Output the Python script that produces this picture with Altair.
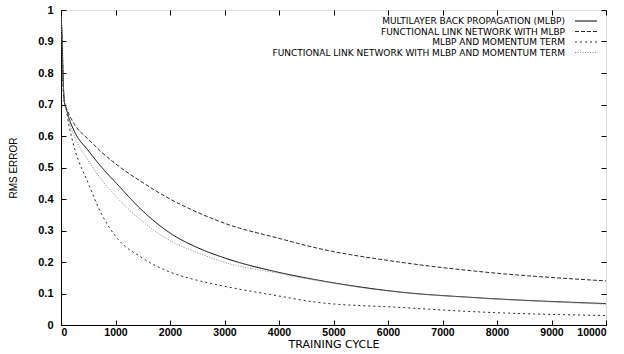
import altair as alt
import pandas as pd

# ---- data ----
cycles = [0, 10, 25, 45, 70, 90, 150, 250, 500, 750, 1000, 1500, 2000, 2500, 3000, 4000,
          4700, 6200, 7600, 10000]

mlbp = [0.98, 0.96, 0.88, 0.76, 0.70, 0.690, 0.655, 0.613, 0.554, 0.500, 0.453, 0.362,
        0.292, 0.246, 0.213, 0.167, 0.143, 0.105, 0.087, 0.068]
fln_mlbp = [0.98, 0.95, 0.86, 0.74, 0.70, 0.692, 0.668, 0.636, 0.590, 0.548, 0.512, 0.452,
            0.400, 0.358, 0.323, 0.275, 0.244, 0.200, 0.171, 0.140]
mlbp_mom = [0.97, 0.93, 0.84, 0.73, 0.70, 0.688, 0.630, 0.560, 0.450, 0.350, 0.282, 0.212,
            0.168, 0.142, 0.123, 0.092, 0.072, 0.056, 0.042, 0.030]
fln_mom = [0.98, 0.94, 0.85, 0.75, 0.70, 0.689, 0.645, 0.597, 0.522, 0.460, 0.410, 0.328,
           0.268, 0.230, 0.199, 0.164, 0.141, 0.104, 0.086, 0.066]

series_names = [
    "MULTILAYER BACK PROPAGATION (MLBP)",
    "FUNCTIONAL LINK NETWORK WITH MLBP",
    "MLBP AND MOMENTUM TERM",
    "FUNCTIONAL LINK NETWORK WITH MLBP AND MOMENTUM TERM",
]
series_values = [mlbp, fln_mlbp, mlbp_mom, fln_mom]

x_ticks = [0, 1000, 2000, 3000, 4000, 5000, 6000, 7000, 8000, 9000, 10000]
y_ticks = [0, 0.1, 0.2, 0.3, 0.4, 0.5, 0.6, 0.7, 0.8, 0.9, 1]

# ---- styles ----
colors = ["#000000", "#2a2a2a", "#2a2a2a", "#8a8a8a"]
dashes = [[1, 0], [4, 2], [2, 3], [1, 1.5]]

rows = []
for name, vals in zip(series_names, series_values):
    for c, v in zip(cycles, vals):
        rows.append({"cycle": c, "rms": v, "series": name})
df = pd.DataFrame(rows)

W, H = 545, 315
LABEL_FONT = "Liberation Sans"
TEXT_FONT = "DejaVu Sans"

xs = alt.Scale(domain=[0, 10000], nice=False)
ys = alt.Scale(domain=[0, 1], nice=False)

lines = alt.Chart(df).mark_line(strokeWidth=1, clip=True, interpolate="monotone").encode(
    x=alt.X("cycle:Q", scale=xs, title="TRAINING CYCLE",
            axis=alt.Axis(values=x_ticks, format="d", ticks=False, grid=False,
                          labelPadding=2, titlePadding=1, labelFontSize=10.5,
                          labelFontWeight="bold", titleFontSize=11,
                          titleFontWeight="normal",
                          labelFont=LABEL_FONT, titleFont=TEXT_FONT, labelColor="black",
                          titleColor="black", domainColor="black")),
    y=alt.Y("rms:Q", scale=ys, title="RMS ERROR",
            axis=alt.Axis(values=y_ticks, ticks=False, grid=False,
                          labelExpr="datum.value == 0 ? '0' : datum.value == 1 ? '1' : format(datum.value, '.1f')",
                          labelPadding=8, titlePadding=19, labelFontSize=11,
                          labelFontWeight="bold", titleFontSize=10,
                          titleFontWeight="normal",
                          labelFont=LABEL_FONT,
                          titleFont="Liberation Sans Narrow, Liberation Sans",
                          labelColor="black", titleColor="black", domainColor="black")),
    color=alt.Color("series:N", scale=alt.Scale(domain=series_names, range=colors), legend=None),
    strokeDash=alt.StrokeDash("series:N", scale=alt.Scale(domain=series_names, range=dashes), legend=None),
    detail="series:N",
)


def tick_layer(xorient, yorient):
    return alt.Chart(df).mark_line(strokeOpacity=0).encode(
        x=alt.X("cycle:Q", scale=xs, title=None,
                axis=alt.Axis(orient=xorient, values=x_ticks, labels=False, domain=False,
                              grid=False, ticks=True, tickSize=5, offset=-5,
                              tickColor="black", tickWidth=1)),
        y=alt.Y("rms:Q", scale=ys, title=None,
                axis=alt.Axis(orient=yorient, values=y_ticks, labels=False, domain=False,
                              grid=False, ticks=True, tickSize=5, offset=-5,
                              tickColor="black", tickWidth=1)),
        detail="series:N",
    )


layers = [lines, tick_layer("bottom", "left"), tick_layer("top", "right")]

# legend (top-right, label then line sample)
text_right = 504
row0 = 11
row_step = 10.5
for i, name in enumerate(series_names):
    yy = row0 + i * row_step
    layers.append(
        alt.Chart(pd.DataFrame({"label": [name]})).mark_text(
            align="right", baseline="middle", font=TEXT_FONT, fontSize=9,
            color="black"
        ).encode(x=alt.value(text_right), y=alt.value(yy), text="label:N")
    )
    layers.append(
        alt.Chart(pd.DataFrame({"label": [name]})).mark_rule(
            strokeWidth=1, color=colors[i], strokeDash=dashes[i]
        ).encode(x=alt.value(text_right + 10), x2=alt.value(text_right + 32), y=alt.value(yy))
    )

chart = alt.layer(*layers).resolve_axis(x="independent", y="independent").properties(
    width=W, height=H,
    autosize=alt.AutoSizeParams(type="none"),
    padding={"left": 61, "top": 10, "right": 18, "bottom": 29},
).configure_view(stroke="black", strokeWidth=1).configure(background="white")

chart.save("out.html", embed_options={"renderer": "svg", "actions": False})
